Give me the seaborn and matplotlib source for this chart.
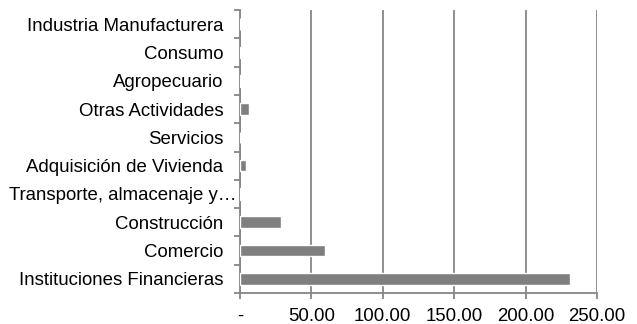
import matplotlib
matplotlib.use("Agg")
import matplotlib.pyplot as plt
import seaborn as sns
import pandas as pd
from matplotlib.ticker import FixedLocator, FuncFormatter

categories = [
    "Industria Manufacturera",
    "Consumo",
    "Agropecuario",
    "Otras Actividades",
    "Servicios",
    "Adquisición de Vivienda",
    "Transporte, almacenaje y…",
    "Construcción",
    "Comercio",
    "Instituciones Financieras",
]
values = [0.1, 0.6, 0.7, 6.1, 0.0, 4.0, 0.9, 28.5, 59.5, 231.0]
x_ticks = [0, 50, 100, 150, 200, 250]

sns.set_theme(style="white")
plt.rcParams["font.family"] = ["Liberation Sans", "DejaVu Sans"]

df = pd.DataFrame({"cat": categories, "val": values})

fig = plt.figure(figsize=(6.37, 3.24), dpi=100)
ax = fig.add_axes([240 / 637, 1 - 293 / 324, 357 / 637, 283 / 324])

sns.barplot(data=df, y="cat", x="val", order=categories, color="#7f7f7f",
            saturation=1, width=0.41, ax=ax, zorder=3)

ax.set_xlim(0, 250)
ax.set_ylim(len(categories) - 0.5, -0.5)
ax.xaxis.set_major_locator(FixedLocator(x_ticks))
ax.xaxis.set_major_formatter(FuncFormatter(lambda v, p: "-" if v == 0 else f"{v:.2f}"))
ax.grid(axis="x", color="#868686", linewidth=1.3, zorder=0)
ax.grid(axis="y", visible=False)

ax.set_xlabel("")
ax.set_ylabel("")

for s in ["top", "right"]:
    ax.spines[s].set_visible(False)
for s in ["left", "bottom"]:
    ax.spines[s].set_color("#868686")
    ax.spines[s].set_linewidth(1.3)

# long label sits closer to the axis (as in the reference)
long_idx = 6
ax.yaxis.set_major_locator(FixedLocator(list(range(len(categories)))))
ax.set_yticklabels([c if i != long_idx else "" for i, c in enumerate(categories)])
ax.annotate(categories[long_idx], xy=(0, long_idx), xycoords=ax.get_yaxis_transform(),
            xytext=(-2.5, 0), textcoords="offset points", ha="right", va="center_baseline",
            fontsize=13.4, color="black")

ax.yaxis.set_minor_locator(FixedLocator([i - 0.5 for i in range(len(categories) + 1)]))
ax.tick_params(axis="y", which="major", length=0, pad=12, labelsize=13.4, labelcolor="black")
ax.tick_params(axis="y", which="minor", length=4, width=1.3, color="#868686", left=True)
ax.tick_params(axis="x", which="major", length=4, width=1.3, color="#868686", bottom=True,
               pad=7, labelsize=13.4, labelcolor="black")

fig.savefig("out.png", dpi=100)
